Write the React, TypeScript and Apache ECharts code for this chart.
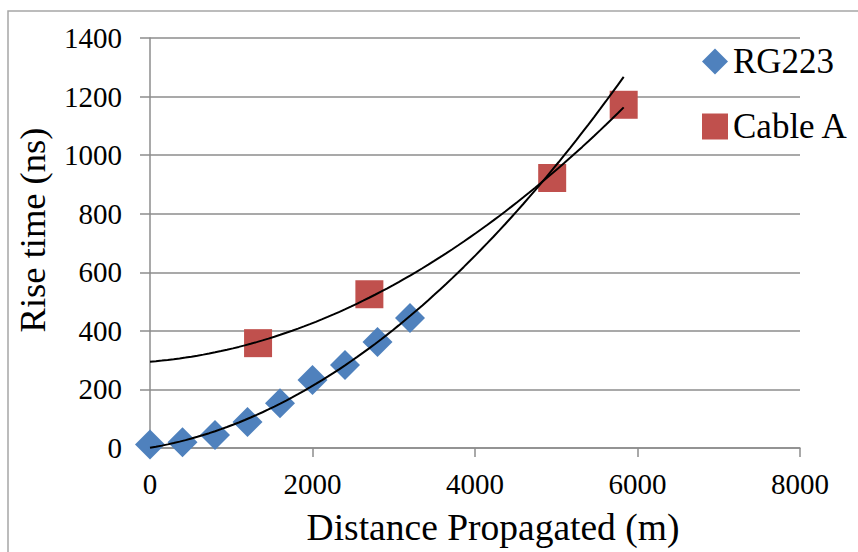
import React, { useEffect, useRef } from "react";
import * as echarts from "echarts";

const rg223X = [0, 400, 800, 1200, 1600, 2000, 2400, 2800, 3200];
const rg223Y = [12, 20, 44, 89, 153, 232, 283, 362, 444];
const cableAX = [1330, 2700, 4950, 5830];
const cableAY = [358, 525, 922, 1172];
const xTicks = [0, 2000, 4000, 6000, 8000];
const yTicks = [0, 200, 400, 600, 800, 1000, 1200, 1400];

const FONT = "'Liberation Serif', 'Times New Roman', serif";

// least-squares quadratic fit (x scaled to thousands)
function polyfit2(xs: number[], ys: number[]) {
  const s = [0, 0, 0, 0, 0];
  const t = [0, 0, 0];
  xs.forEach((xv, i) => {
    const x = xv / 1000;
    let p = 1;
    for (let k = 0; k < 5; k++) {
      s[k] += p;
      if (k < 3) t[k] += p * ys[i];
      p *= x;
    }
  });
  const M = [
    [s[0], s[1], s[2], t[0]],
    [s[1], s[2], s[3], t[1]],
    [s[2], s[3], s[4], t[2]],
  ];
  for (let i = 0; i < 3; i++) {
    for (let j = i + 1; j < 3; j++) {
      const f = M[j][i] / M[i][i];
      for (let k = i; k < 4; k++) M[j][k] -= f * M[i][k];
    }
  }
  const c = [0, 0, 0];
  for (let i = 2; i >= 0; i--) {
    let v = M[i][3];
    for (let k = i + 1; k < 3; k++) v -= M[i][k] * c[k];
    c[i] = v / M[i][i];
  }
  return (xv: number) => {
    const x = xv / 1000;
    return c[0] + c[1] * x + c[2] * x * x;
  };
}

function trend(xs: number[], ys: number[], xEnd: number) {
  const f = polyfit2(xs, ys);
  const pts: number[][] = [];
  const n = 80;
  for (let i = 0; i <= n; i++) {
    const x = (xEnd * i) / n;
    pts.push([x, f(x)]);
  }
  return pts;
}

export default function App() {
  const ref = useRef<HTMLDivElement>(null);
  useEffect(() => {
    if (!ref.current) return;
    const chart = echarts.init(ref.current, null, { renderer: "svg" });
    const xEnd = Math.max(...cableAX);
    const gray = "#8C8C8C";
    const plain = (v: number) => String(v);
    chart.setOption({
      animation: false,
      backgroundColor: "#fff",
      textStyle: { fontFamily: FONT },
      grid: { left: 150, right: 58, top: 38, bottom: 104, containLabel: false },
      graphic: [
        {
          type: "rect",
          shape: { x: 8, y: 11, width: 900, height: 600 },
          style: { fill: "none", stroke: "#A6A6A6", lineWidth: 1.5 },
          silent: true,
        },
      ],
      legend: {
        orient: "vertical",
        left: 697,
        top: 39,
        itemWidth: 26,
        itemHeight: 26,
        itemGap: 30,
        textStyle: { fontFamily: FONT, fontSize: 35, color: "#000" },
        data: [
          { name: "RG223", icon: "diamond" },
          { name: "Cable A", icon: "rect" },
        ],
      },
      xAxis: {
        type: "value",
        min: xTicks[0],
        max: xTicks[xTicks.length - 1],
        interval: xTicks[1] - xTicks[0],
        name: "Distance Propagated (m)",
        nameLocation: "middle",
        nameGap: 60,
        nameTextStyle: {
          fontFamily: FONT,
          fontSize: 37.5,
          color: "#000",
          padding: [0, 0, 0, 36],
        },
        axisLine: { show: true, lineStyle: { color: gray, width: 1.5 } },
        axisTick: { show: true, length: 9, lineStyle: { color: gray, width: 1.5 } },
        axisLabel: { fontFamily: FONT, fontSize: 29, color: "#000", margin: 21, formatter: plain },
        splitLine: { show: false },
      },
      yAxis: {
        type: "value",
        min: yTicks[0],
        max: yTicks[yTicks.length - 1],
        interval: yTicks[1] - yTicks[0],
        name: "Rise time (ns)",
        nameLocation: "middle",
        nameGap: 99,
        nameTextStyle: {
          fontFamily: FONT,
          fontSize: 36.5,
          color: "#000",
          padding: [0, 0, 0, 26],
        },
        axisLine: { show: true, lineStyle: { color: gray, width: 1.5 } },
        axisTick: { show: true, length: 10, lineStyle: { color: gray, width: 1.5 } },
        axisLabel: { fontFamily: FONT, fontSize: 29, color: "#000", margin: 28, formatter: plain },
        splitLine: { show: true, lineStyle: { color: gray, width: 1.5 } },
      },
      series: [
        {
          name: "RG223",
          type: "scatter",
          symbol: "diamond",
          symbolSize: 30,
          itemStyle: { color: "#4F81BD", opacity: 1 },
          data: rg223X.map((x, i) => [x, rg223Y[i]]),
        },
        {
          name: "Cable A",
          type: "scatter",
          symbol: "rect",
          symbolSize: 28,
          itemStyle: { color: "#C0504D", opacity: 1 },
          data: cableAX.map((x, i) => [x, cableAY[i]]),
        },
        {
          name: "RG223 trend",
          type: "line",
          showSymbol: false,
          symbol: "none",
          silent: true,
          lineStyle: { color: "#000", width: 2 },
          data: trend(rg223X, rg223Y, xEnd),
        },
        {
          name: "Cable A trend",
          type: "line",
          showSymbol: false,
          symbol: "none",
          silent: true,
          lineStyle: { color: "#000", width: 2 },
          data: trend(cableAX, cableAY, xEnd),
        },
      ],
    });
    return () => chart.dispose();
  }, []);
  return (
    <div
      ref={ref}
      style={{ position: "fixed", left: 0, top: 0, width: 858, height: 552 }}
    />
  );
}
